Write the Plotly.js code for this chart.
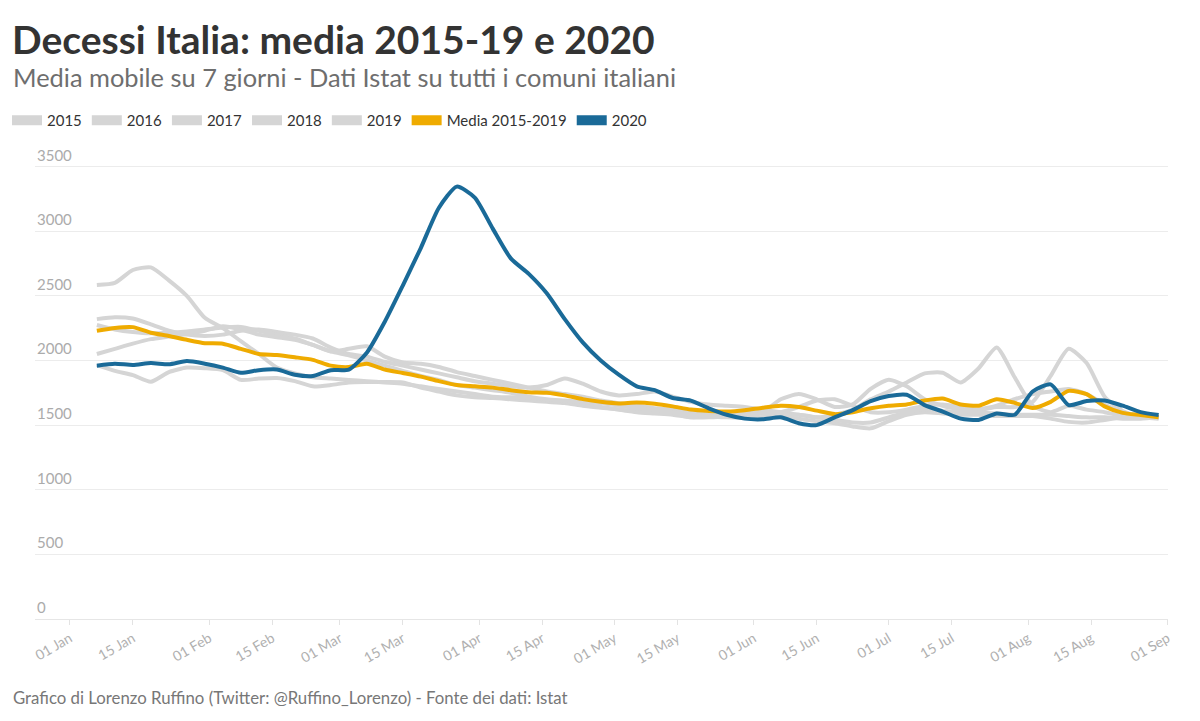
<!DOCTYPE html>
<html>
<head>
<meta charset="utf-8">
<script src="https://cdn.plot.ly/plotly-3.0.1.min.js"></script>
<style>html,body{margin:0;padding:0;background:#fff;}#chart{width:1200px;height:721px;}</style>
</head>
<body>
<div id="chart"></div>
<script>
// Dates (day-of-year placed on the 2020 calendar), every 4 days
const dates = ['2020-01-07','2020-01-11','2020-01-15','2020-01-19','2020-01-23','2020-01-27','2020-01-31',
'2020-02-04','2020-02-08','2020-02-12','2020-02-16','2020-02-20','2020-02-24','2020-02-28',
'2020-03-03','2020-03-07','2020-03-11','2020-03-15','2020-03-19','2020-03-23','2020-03-27','2020-03-31',
'2020-04-04','2020-04-08','2020-04-12','2020-04-16','2020-04-20','2020-04-24','2020-04-28',
'2020-05-02','2020-05-06','2020-05-10','2020-05-14','2020-05-18','2020-05-22','2020-05-26','2020-05-30',
'2020-06-03','2020-06-07','2020-06-11','2020-06-15','2020-06-19','2020-06-23','2020-06-27',
'2020-07-01','2020-07-05','2020-07-09','2020-07-13','2020-07-17','2020-07-21','2020-07-25','2020-07-29',
'2020-08-02','2020-08-06','2020-08-10','2020-08-14','2020-08-18','2020-08-22','2020-08-26','2020-08-30'];

const y2015 = [2320,2335,2325,2280,2230,2200,2190,2200,2230,2240,2220,2200,2170,2100,2050,2030,1990,1960,1930,1900,1870,1840,1820,1800,1790,1810,1860,1820,1760,1730,1740,1760,1720,1680,1660,1650,1640,1620,1600,1580,1560,1580,1620,1700,1760,1830,1900,1905,1830,1940,2100,1870,1650,1600,1650,1620,1600,1570,1560,1550];
const y2016 = [1964,1920,1887,1835,1910,1945,1940,1925,1850,1860,1864,1840,1800,1810,1830,1833,1833,1830,1790,1760,1730,1715,1710,1700,1690,1680,1670,1650,1635,1620,1605,1595,1590,1560,1575,1590,1600,1590,1560,1550,1530,1515,1490,1475,1530,1580,1600,1590,1580,1580,1570,1570,1570,1550,1525,1520,1540,1560,1560,1560];
const y2017 = [2583,2600,2700,2720,2620,2500,2330,2250,2150,2050,1945,1900,1870,1860,1850,1840,1830,1820,1800,1780,1760,1740,1720,1715,1710,1690,1680,1660,1640,1620,1600,1590,1580,1560,1560,1570,1580,1590,1600,1640,1690,1700,1650,1600,1600,1620,1650,1660,1640,1620,1640,1640,1680,1880,2090,1980,1720,1610,1560,1560];
const y2018 = [2274,2240,2220,2210,2215,2225,2240,2255,2260,2230,2200,2170,2120,2070,2090,2110,2030,1985,1975,1950,1910,1880,1850,1820,1790,1760,1740,1720,1690,1670,1650,1630,1620,1600,1580,1570,1560,1560,1570,1580,1560,1540,1520,1520,1560,1600,1620,1610,1600,1620,1650,1700,1740,1760,1780,1740,1660,1600,1570,1560];
const y2019 = [2050,2090,2130,2165,2185,2205,2230,2265,2240,2200,2180,2160,2120,2070,2040,2000,1960,1920,1880,1850,1810,1790,1770,1750,1720,1700,1690,1680,1670,1650,1630,1620,1600,1580,1570,1560,1560,1600,1700,1740,1700,1640,1660,1780,1850,1800,1700,1650,1620,1600,1590,1580,1580,1580,1570,1560,1560,1550,1550,1560];
const media = [2230,2252,2258,2215,2190,2160,2134,2130,2090,2050,2042,2025,2005,1960,1949,1975,1930,1903,1875,1840,1810,1800,1790,1770,1755,1750,1730,1701,1680,1668,1675,1665,1645,1620,1610,1605,1615,1635,1650,1640,1612,1585,1600,1630,1650,1660,1690,1705,1660,1650,1700,1672,1632,1680,1765,1740,1645,1595,1578,1560];
const y2020 = [1960,1975,1965,1980,1970,1995,1975,1945,1905,1925,1930,1890,1880,1925,1930,2060,2300,2580,2870,3180,3345,3260,3020,2790,2670,2520,2320,2140,2000,1890,1800,1770,1710,1690,1630,1580,1550,1545,1560,1515,1500,1560,1616,1685,1725,1735,1655,1605,1550,1540,1590,1580,1760,1815,1655,1686,1690,1650,1600,1578];

const tickDates = ['2020-01-01','2020-01-15','2020-02-01','2020-02-15','2020-03-01','2020-03-15','2020-04-01','2020-04-15',
'2020-05-01','2020-05-15','2020-06-01','2020-06-15','2020-07-01','2020-07-15','2020-08-01','2020-08-15','2020-09-01'];
const tickLabels = ['01 Jan','15 Jan','01 Feb','15 Feb','01 Mar','15 Mar','01 Apr','15 Apr',
'01 May','15 May','01 Jun','15 Jun','01 Jul','15 Jul','01 Aug','15 Aug','01 Sep'];
const yTicks = [0,500,1000,1500,2000,2500,3000,3500];

const seriesNames = ['2015','2016','2017','2018','2019','Media 2015-2019','2020'];
const seriesValues = [y2015,y2016,y2017,y2018,y2019,media,y2020];
const GREY = '#d5d5d5', YELLOW = '#efab00', BLUE = '#1a6a98';
const seriesColors = [GREY,GREY,GREY,GREY,GREY,YELLOW,BLUE];

const FONT = 'Lato, "Open Sans", sans-serif';
const traces = [];
seriesNames.forEach((n,i)=>{
  traces.push({
    type:'scatter', mode:'lines', x:dates, y:seriesValues[i], name:n, legendgroup:n,
    showlegend:false, line:{color:seriesColors[i], width:4, shape:'spline', smoothing:0.6},
    hovertemplate:'%{x|%d %b}: %{y}<extra>'+n+'</extra>'
  });
});
// legend swatches
seriesNames.forEach((n,i)=>{
  traces.push({
    type:'scatter', mode:'lines', x:[null], y:[null], name:n, legendgroup:n,
    showlegend:true, line:{color:seriesColors[i], width:14}, hoverinfo:'skip'
  });
});

// y-axis labels sitting on top of their gridlines (positioned by the y scale)
const yLabelAnnotations = yTicks.map(v=>({
  text:String(v), xref:'paper', x:0, xanchor:'left', xshift:0,
  yref:'y', y:v, yanchor:'bottom', yshift:1, showarrow:false,
  font:{family:FONT, size:15, color:'#ababab'}
}));

const layout = {
  width:1200, height:721,
  margin:{l:35, r:32, t:164, b:102},
  paper_bgcolor:'#fff', plot_bgcolor:'#fff',
  font:{family:FONT, color:'#333'},
  title:{text:'Decessi Italia: media 2015-19 e 2020',
    font:{family:FONT, size:39, color:'#333', weight:'bold'},
    xref:'container', x:12/1200, xanchor:'left', yref:'container', y:1-40/721, yanchor:'middle'},
  showlegend:true,
  legend:{orientation:'h', xref:'container', yref:'container', x:7/1200, y:1-104/721,
    xanchor:'left', yanchor:'top', font:{family:FONT, size:15, color:'#333'},
    itemwidth:30, bgcolor:'rgba(0,0,0,0)', traceorder:'normal'},
  xaxis:{type:'date', range:['2019-12-24 06:00','2020-09-01 02:00'],
    tickmode:'array', tickvals:tickDates, ticktext:tickLabels, tickangle:-30,
    tickfont:{family:FONT, size:14, color:'#b0b0b0'},
    showgrid:false, zeroline:false, showline:true, linecolor:'#e6e6e6', linewidth:1,
    ticks:'outside', ticklen:5, tickcolor:'#e3e3e3', fixedrange:true},
  yaxis:{range:[0,3520], tickmode:'array', tickvals:yTicks,
    showgrid:true, gridcolor:'#ececec', gridwidth:1, zeroline:false, showline:false,
    ticks:'', showticklabels:false, fixedrange:true},
  annotations:[
    {text:'Media mobile su 7 giorni - Dati Istat su tutti i comuni italiani',
     xref:'paper', x:0, xshift:-24, xanchor:'left', yref:'paper', y:1, yshift:87, yanchor:'middle',
     showarrow:false, font:{family:FONT, size:25.4, color:'#6e6e6e'}},
    {text:'Grafico di Lorenzo Ruffino (Twitter: @Ruffino_Lorenzo) - Fonte dei dati: Istat',
     xref:'paper', x:0, xshift:-24, xanchor:'left', yref:'paper', y:0, yshift:-78, yanchor:'middle',
     showarrow:false, font:{family:FONT, size:16.8, color:'#777'}}
  ].concat(yLabelAnnotations)
};

Plotly.newPlot('chart', traces, layout, {displayModeBar:false, responsive:false});
</script>
</body>
</html>
